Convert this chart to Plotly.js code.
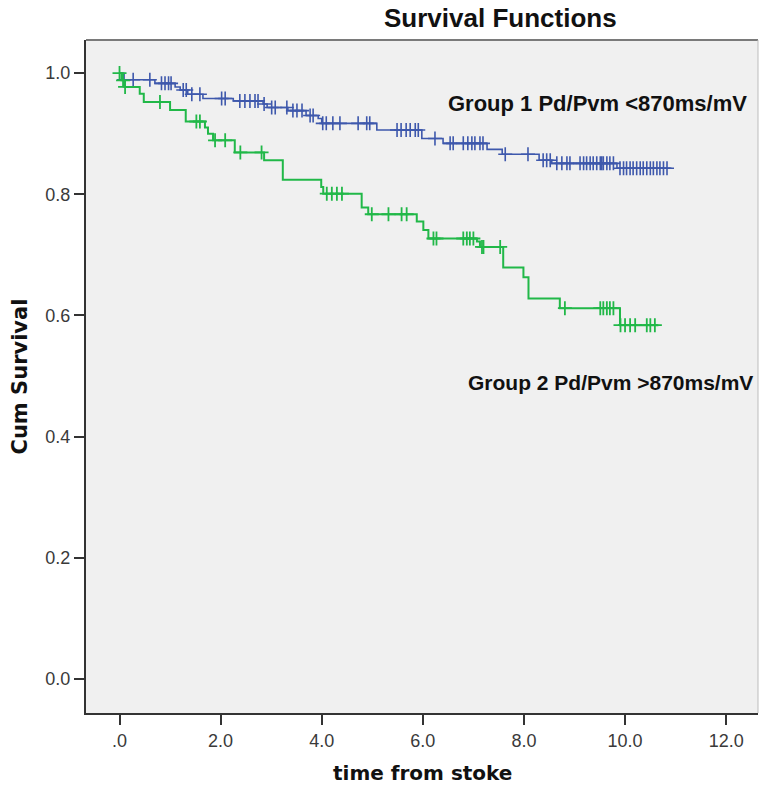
<!DOCTYPE html>
<html>
<head>
<meta charset="utf-8">
<script src="https://cdn.plot.ly/plotly-3.0.1.min.js"></script>
<style>html,body{margin:0;padding:0;background:#fff;}#chart{width:759px;height:786px;}</style>
</head>
<body>
<div id="chart"></div>
<script>
// Group 1 (blue): step times and survival levels after each step
const g1Times = [0, 0.07, 0.70, 1.10, 1.20, 1.35, 1.65, 2.25, 2.84, 2.92, 3.33, 3.69, 3.93, 4.00, 5.09, 5.98, 6.40, 7.27, 7.57, 8.30, 8.55, 9.84, 10.92];
const g1Surv  = [1.000, 0.989, 0.983, 0.977, 0.972, 0.965, 0.958, 0.954, 0.949, 0.943, 0.938, 0.930, 0.925, 0.917, 0.906, 0.892, 0.884, 0.874, 0.866, 0.856, 0.851, 0.843, 0.843];
const g1Censor = [0.09, 0.27, 0.60, 0.83, 0.90, 0.97, 1.02, 1.26, 1.32, 1.43, 1.59, 2.02, 2.09, 2.38, 2.48, 2.58, 2.68, 2.74, 2.86, 3.01, 3.08, 3.31, 3.43, 3.51, 3.61, 3.77, 3.83, 4.02, 4.09, 4.22, 4.36, 4.72, 4.89, 4.95, 5.49, 5.57, 5.67, 5.75, 5.85, 5.91, 6.24, 6.54, 6.60, 6.80, 6.89, 6.97, 7.03, 7.13, 7.19, 7.63, 8.08, 8.38, 8.45, 8.52, 8.65, 8.75, 8.85, 8.91, 9.11, 9.18, 9.24, 9.31, 9.37, 9.44, 9.51, 9.54, 9.57, 9.64, 9.70, 9.77, 9.90, 9.97, 10.03, 10.10, 10.16, 10.23, 10.30, 10.36, 10.43, 10.50, 10.56, 10.63, 10.69, 10.76, 10.83];

// Group 2 (green)
const g2Times = [0, 0.04, 0.10, 0.40, 0.48, 1.00, 1.31, 1.69, 1.75, 1.85, 2.28, 2.86, 3.23, 3.99, 4.03, 4.79, 4.92, 5.88, 6.01, 6.11, 7.07, 7.13, 7.59, 7.99, 8.09, 8.71, 9.90, 10.66];
const g2Surv  = [1.000, 0.988, 0.977, 0.966, 0.952, 0.939, 0.920, 0.910, 0.900, 0.889, 0.869, 0.856, 0.824, 0.812, 0.801, 0.778, 0.767, 0.755, 0.741, 0.727, 0.722, 0.713, 0.679, 0.663, 0.628, 0.612, 0.584, 0.584];
const g2Censor = [0.00, 0.07, 0.11, 0.80, 1.52, 1.59, 1.89, 2.09, 2.39, 2.81, 4.10, 4.20, 4.30, 4.40, 4.99, 5.32, 5.58, 5.68, 6.21, 6.27, 6.80, 6.87, 6.93, 7.00, 7.17, 7.20, 7.53, 8.81, 9.51, 9.57, 9.64, 9.70, 9.77, 9.91, 10.00, 10.10, 10.20, 10.43, 10.50, 10.59];

const xTickVals = [0, 2, 4, 6, 8, 10, 12];
const xTickText = ['.0', '2.0', '4.0', '6.0', '8.0', '10.0', '12.0'];
const yTickVals = [0, 0.2, 0.4, 0.6, 0.8, 1.0];
const yTickText = ['0.0', '0.2', '0.4', '0.6', '0.8', '1.0'];

const titleText = 'Survival Functions';
const xTitle = 'time from stoke';
const yTitle = 'Cum Survival';
const label1 = 'Group 1 Pd/Pvm <870ms/mV';
const label2 = 'Group 2 Pd/Pvm >870ms/mV';

function survAt(times, surv, t) {
  let s = surv[0];
  for (let i = 0; i < times.length; i++) { if (times[i] <= t) s = surv[i]; }
  return s;
}

const blue = '#3E58AC';
const green = '#21B848';

const traces = [
  {x: g1Times, y: g1Surv, mode: 'lines', line: {shape: 'hv', color: blue, width: 1.6}, hoverinfo: 'skip', showlegend: false},
  {x: g1Censor, y: g1Censor.map(t => survAt(g1Times, g1Surv, t)), mode: 'markers',
   marker: {symbol: 'cross-thin', size: 10, line: {color: blue, width: 1.6}, color: blue}, hoverinfo: 'skip', showlegend: false},
  {x: g2Times, y: g2Surv, mode: 'lines', line: {shape: 'hv', color: green, width: 2}, hoverinfo: 'skip', showlegend: false},
  {x: g2Censor, y: g2Censor.map(t => survAt(g2Times, g2Surv, t)), mode: 'markers',
   marker: {symbol: 'cross-thin', size: 10, line: {color: green, width: 1.8}, color: green}, hoverinfo: 'skip', showlegend: false}
];

const tickFont = {family: 'Liberation Sans, Arial, sans-serif', size: 18, color: '#3a3a3a'};
const layout = {
  width: 759, height: 786,
  margin: {l: 86, r: 1, t: 40, b: 73, pad: 0},
  paper_bgcolor: '#ffffff',
  plot_bgcolor: '#F0F0F0',
  showlegend: false,
  xaxis: {
    range: [-0.663, 12.63], tickvals: xTickVals, ticktext: xTickText,
    ticks: 'outside', ticklen: 10, tickwidth: 2, tickcolor: '#333',
    showline: true, linecolor: '#333', linewidth: 2, showgrid: false, zeroline: false,
    tickfont: tickFont, fixedrange: true
  },
  yaxis: {
    range: [-0.056, 1.0545], tickvals: yTickVals, ticktext: yTickText,
    ticks: 'outside', ticklen: 10, tickwidth: 2, tickcolor: '#333',
    showline: true, linecolor: '#333', linewidth: 2, showgrid: false, zeroline: false,
    tickfont: tickFont, fixedrange: true
  },
  shapes: [
    {type: 'line', xref: 'paper', yref: 'paper', x0: 0, x1: 1, y0: 1, y1: 1, line: {color: '#7a7a7a', width: 2}},
    {type: 'line', xref: 'paper', yref: 'paper', x0: 1, x1: 1, y0: 0, y1: 1, line: {color: '#bdbdbd', width: 1}}
  ],
  annotations: [
    {text: titleText, xref: 'paper', yref: 'paper', x: 0.6173, y: 1.032, xanchor: 'center', yanchor: 'middle', showarrow: false,
     font: {family: 'Liberation Sans, Arial, sans-serif', size: 26, color: '#111', weight: 'bold'}},
    {text: yTitle, xref: 'paper', yref: 'paper', x: -0.0997, y: 0.5, xanchor: 'center', yanchor: 'middle', textangle: -90, showarrow: false,
     font: {family: 'DejaVu Sans, sans-serif', size: 21, color: '#111', weight: 'bold'}},
    {text: xTitle, xref: 'paper', yref: 'paper', x: 0.5, y: -0.0885, xanchor: 'center', yanchor: 'middle', showarrow: false,
     font: {family: 'DejaVu Sans, sans-serif', size: 20, color: '#111', weight: 'bold'}},
    {text: label1, xref: 'paper', yref: 'paper', x: 0.5357, y: 0.905, xanchor: 'left', yanchor: 'middle', showarrow: false,
     font: {family: 'Liberation Sans, Arial, sans-serif', size: 22, color: '#111', weight: 'bold'}},
    {text: label2, xref: 'paper', yref: 'paper', x: 0.5655, y: 0.4918, xanchor: 'left', yanchor: 'middle', showarrow: false,
     font: {family: 'Liberation Sans, Arial, sans-serif', size: 21, color: '#111', weight: 'bold'}}
  ]
};

Plotly.newPlot('chart', traces, layout, {staticPlot: true, displayModeBar: false});
</script>
</body>
</html>
